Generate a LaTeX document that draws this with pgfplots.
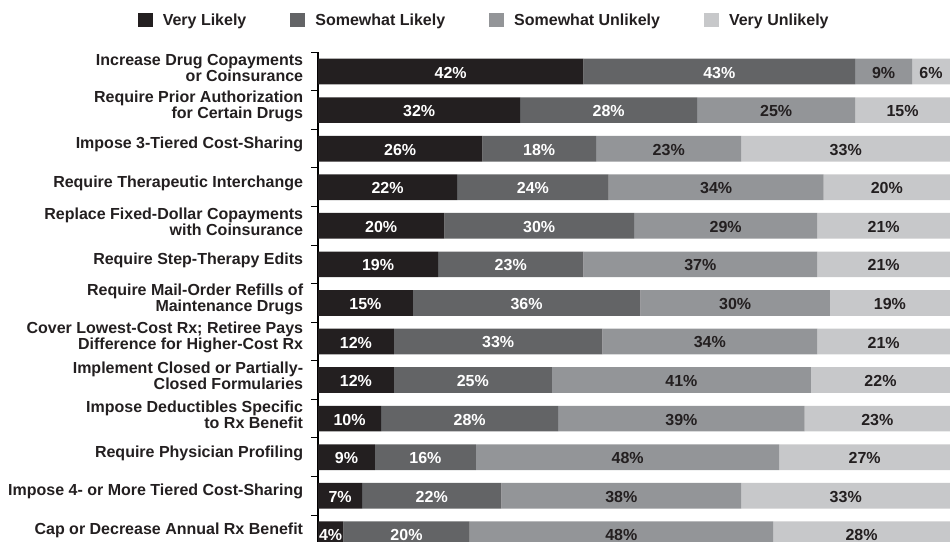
\documentclass[border=0pt]{standalone}
\usepackage{fontspec}
\setmainfont{Liberation Sans}
\usepackage{pgfplots}
\usepackage{pgfplotstable}
\pgfplotsset{compat=1.18}
\usetikzlibrary{calc}

\definecolor{vl}{HTML}{231F20}
\definecolor{sl}{HTML}{636466}
\definecolor{su}{HTML}{939598}
\definecolor{vu}{HTML}{C7C8CA}
\newcommand\lf{\fontsize{16}{16}\selectfont\bfseries}

% rows from the bottom (y=1) to the top (y=13)
\pgfplotstableread{
y  VL SL SU VU
13 42 43  9  6
12 32 28 25 15
11 26 18 23 33
10 22 24 34 20
9  20 30 29 21
8  19 23 37 21
7  15 36 30 19
6  12 33 34 21
5  12 25 41 22
4  10 28 39 23
3   9 16 48 27
2   7 22 38 33
1   4 20 48 28
}\rxdata

\pgfplotsset{seg/.style n args={2}{fill=#1, draw=none,
  every node near coord/.append style={text=#2}}}

\begin{document}
\begin{tikzpicture}
\begin{axis}[name=ax, scale only axis, width=632pt, height=489.7pt,
  xbar stacked, bar width=25.7pt,
  xmin=0, xmax=100, ymin=0.8, ymax=13.5,
  axis x line=none, axis y line*=left,
  ytick={1,...,13}, minor ytick={1.5,2.5,...,13.5},
  major tick length=0pt, minor tick length=7pt, tick align=outside,
  minor tick style={black, line width=1pt}, axis line style={black, line width=1.3pt},
  yticklabels={{Cap or Decrease Annual Rx Benefit},
    {Impose 4- or More Tiered Cost-Sharing},
    {Require Physician Profiling},
    {Impose Deductibles Specific\\to Rx Benefit},
    {Implement Closed or Partially-\\Closed Formularies},
    {Cover Lowest-Cost Rx; Retiree Pays\\Difference for Higher-Cost Rx},
    {Require Mail-Order Refills of\\Maintenance Drugs},
    {Require Step-Therapy Edits},
    {Replace Fixed-Dollar Copayments\\with Coinsurance},
    {Require Therapeutic Interchange},
    {Impose 3-Tiered Cost-Sharing},
    {Require Prior Authorization\\for Certain Drugs},
    {Increase Drug Copayments\\or Coinsurance}},
  yticklabel style={font=\lf, align=right, text=vl, inner xsep=0pt, xshift=-14.7pt, yshift=4pt},
  legend style={at={(0.263,1.066)}, anchor=center, draw=none, fill=none,
    legend columns=4, font=\lf, text=vl,
    /tikz/every odd column/.append style={column sep=8pt},
    /tikz/every even column/.append style={column sep=42pt}},
  legend image code/.code={\fill[#1] (0pt,-7pt) rectangle (15pt,7pt);},
  visualization depends on={rawx \as \segval},
  nodes near coords={\pgfmathprintnumber[assume math mode=true]{\segval}\%},
  every node near coord/.append style={font=\lf, anchor=center, yshift=-1pt},
]
\addplot[seg={vl}{white}] table[x=VL, y=y] {\rxdata};
\addplot[seg={sl}{white}] table[x=SL, y=y] {\rxdata};
\addplot[seg={su}{vl}] table[x=SU, y=y] {\rxdata};
\addplot[seg={vu}{vl}] table[x=VU, y=y] {\rxdata};
\legend{Very Likely, Somewhat Likely, Somewhat Unlikely, Very Unlikely}
\end{axis}
\pgfresetboundingbox
\path ($(ax.south west)+(-318pt,0)$) rectangle ($(ax.north east)+(0,52.3pt)$);
\end{tikzpicture}
\end{document}
